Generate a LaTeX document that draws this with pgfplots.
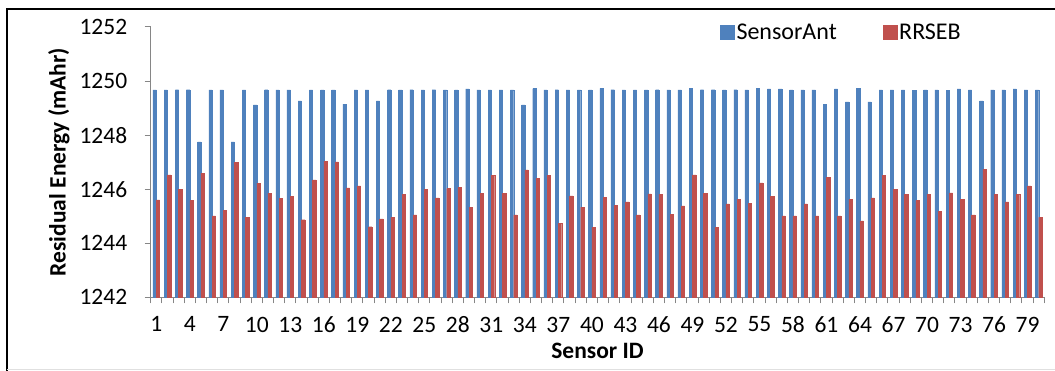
\documentclass[border=0pt]{standalone}
\usepackage{pgfplots}
\pgfplotsset{compat=1.18}
\usepackage{pgfplotstable}
\usepackage{fontspec}
\setmainfont{Carlito}

\definecolor{antblue}{HTML}{4F81BD}
\definecolor{rrsebred}{HTML}{C0504D}
\definecolor{axisgray}{HTML}{868686}

% Residual energy per sensor (mAhr)
\pgfplotstableread{
id ant     rrseb
1  1249.67 1245.60
2  1249.67 1246.53
3  1249.68 1246.00
4  1249.68 1245.58
5  1247.75 1246.59
6  1249.67 1245.01
7  1249.67 1245.21
8  1247.75 1246.99
9  1249.67 1244.97
10 1249.12 1246.22
11 1249.68 1245.85
12 1249.67 1245.67
13 1249.67 1245.74
14 1249.27 1244.87
15 1249.67 1246.34
16 1249.67 1247.04
17 1249.67 1247.01
18 1249.15 1246.05
19 1249.67 1246.12
20 1249.67 1244.61
21 1249.27 1244.90
22 1249.68 1244.97
23 1249.67 1245.81
24 1249.68 1245.05
25 1249.67 1246.00
26 1249.68 1245.68
27 1249.67 1246.02
28 1249.67 1246.07
29 1249.71 1245.34
30 1249.67 1245.85
31 1249.67 1246.52
32 1249.67 1245.85
33 1249.67 1245.05
34 1249.12 1246.71
35 1249.72 1246.39
36 1249.67 1246.52
37 1249.68 1244.74
38 1249.67 1245.75
39 1249.67 1245.34
40 1249.67 1244.60
41 1249.73 1245.71
42 1249.68 1245.39
43 1249.67 1245.53
44 1249.67 1245.05
45 1249.67 1245.83
46 1249.68 1245.81
47 1249.67 1245.08
48 1249.67 1245.38
49 1249.73 1246.53
50 1249.68 1245.85
51 1249.68 1244.59
52 1249.67 1245.46
53 1249.68 1245.63
54 1249.67 1245.47
55 1249.72 1246.23
56 1249.71 1245.73
57 1249.71 1245.01
58 1249.67 1245.01
59 1249.67 1245.46
60 1249.67 1245.01
61 1249.13 1246.43
62 1249.71 1245.01
63 1249.23 1245.62
64 1249.72 1244.83
65 1249.23 1245.68
66 1249.67 1246.52
67 1249.67 1246.00
68 1249.67 1245.82
69 1249.66 1245.58
70 1249.67 1245.81
71 1249.67 1245.18
72 1249.66 1245.86
73 1249.71 1245.62
74 1249.67 1245.05
75 1249.27 1246.73
76 1249.67 1245.82
77 1249.67 1245.53
78 1249.71 1245.82
79 1249.67 1246.12
80 1249.67 1244.96
}\energy

\begin{document}
\begin{tikzpicture}[x=1pt,y=1pt]
\useasboundingbox (0,0) rectangle (1055,371);
% frame around the chart
\draw[line width=2pt] (7,0) -- (7,362) -- (1055,362);
\draw[black!12, line width=1pt] (7,1.5) -- (1055,1.5);
\begin{axis}[
  at={(150.7pt,73.7pt)}, anchor=south west,
  scale only axis, width=893.6pt, height=270.3pt,
  ybar=0pt, bar width=3.33pt,
  xmin=0.5, xmax=80.5, ymin=1242, ymax=1252,
  axis lines*=left,
  axis line style={axisgray, line width=1.5pt},
  tick style={axisgray, line width=1pt},
  tick align=outside, major tick length=6pt,
  ytick={1242,1244,...,1252},
  xtick={0.5,1.5,...,80.5}, xticklabels={},
  extra x ticks={1,4,...,79},
  extra x tick style={major tick length=0pt,
    xticklabel style={yshift=-16pt}},
  /pgf/number format/assume math mode=true,
  /pgf/number format/1000 sep={},
  ticklabel style={font=\fontsize{23.5}{28}\selectfont},
  yticklabel style={xshift=-14pt},
  xlabel={Sensor ID},
  label style={font=\fontsize{23.5}{28}\selectfont\bfseries},
  xlabel style={at={(axis description cs:0.5,-0.1987)}, anchor=center},
  legend columns=2,
  legend style={at={(rel axis cs:0.637,0.981)}, anchor=west,
    draw=none, fill=none, inner sep=0pt,
    font=\fontsize{24}{28}\selectfont,
    /tikz/every even column/.append style={column sep=44pt}},
]
\addplot[fill=antblue, draw=antblue,
  legend image code/.code={\fill[antblue] (0pt,-7pt) rectangle (14pt,7pt);}]
  table[x=id, y=ant] {\energy};
\addlegendentry{SensorAnt}
\addplot[fill=rrsebred, draw=rrsebred,
  legend image code/.code={\fill[rrsebred] (0pt,-7pt) rectangle (14pt,7pt);}]
  table[x=id, y=rrseb] {\energy};
\addlegendentry{RRSEB}
\end{axis}
% y-axis title
\node[rotate=90, anchor=center, inner sep=0pt,
  font=\fontsize{23.5}{28}\selectfont\bfseries] at (59,209) {Residual Energy (mAhr)};
\end{tikzpicture}
\end{document}
